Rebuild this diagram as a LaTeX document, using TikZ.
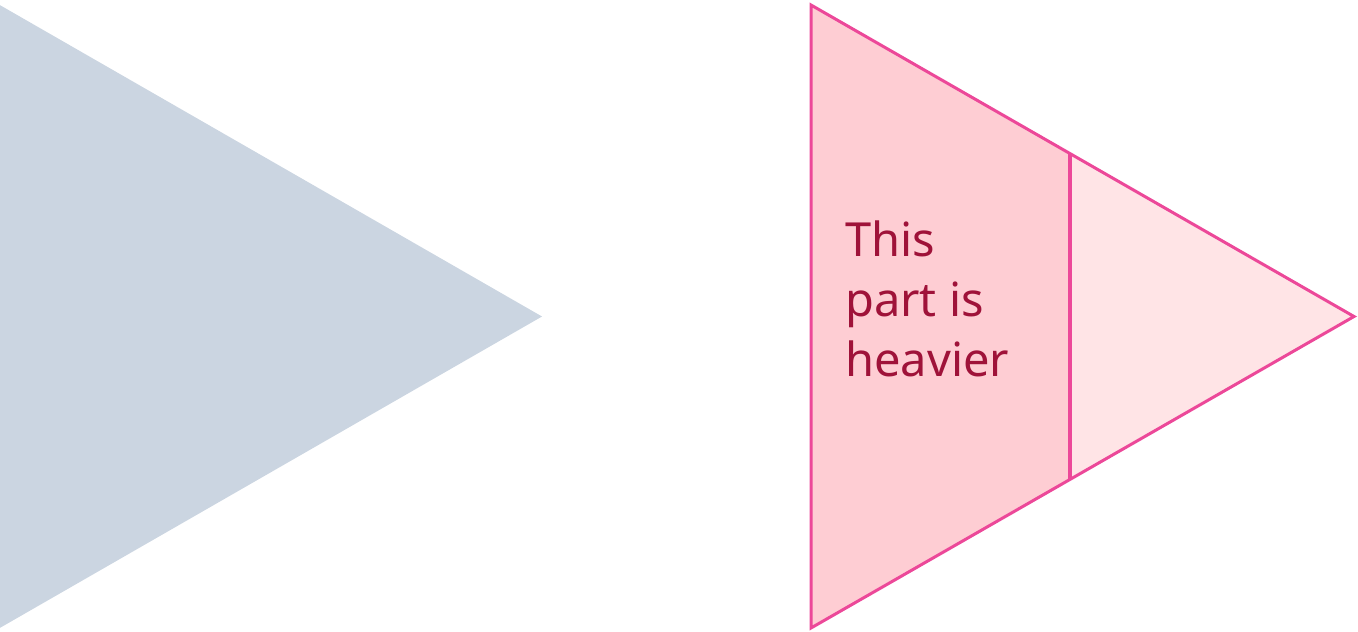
\documentclass[tikz,border=0pt]{standalone}
\usepackage{fontspec}
\setmainfont{Noto Sans}
\definecolor{slatefill}{HTML}{CBD5E1}
\definecolor{rosedark}{HTML}{FECDD3}
\definecolor{roselight}{HTML}{FFE4E6}
\definecolor{pinkline}{HTML}{EC4899}
\definecolor{rosetext}{HTML}{9F1239}
\tikzset{
  outline/.style={draw=pinkline, line width=3pt, line join=miter},
  divider/.style={draw=pinkline, line width=3.5pt},
  label/.style={text=rosetext, font=\fontsize{47}{60}\selectfont, align=left, inner sep=0pt, anchor=north west}
}
\begin{document}
\begin{tikzpicture}[x=1pt,y=-1pt]
\useasboundingbox (0,0) rectangle (1358,632);
% left triangle
\fill[slatefill] (-2,4) -- (542,316.5) -- (-2,629) -- cycle;
% right triangle
\coordinate (A) at (811,5);
\coordinate (B) at (1354,316.5);
\coordinate (C) at (811,628);
\coordinate (Dt) at (1070,153.6);
\coordinate (Db) at (1070,479.4);
\fill[rosedark] (A) -- (Dt) -- (Db) -- (C) -- cycle;
\fill[roselight] (Dt) -- (B) -- (Db) -- cycle;
\draw[divider] (Dt) -- (Db);
\draw[outline] (A) -- (B) -- (C) -- cycle;
\node[label] (txt) at (845,221) {This\\part is\\heavier};
\end{tikzpicture}
\end{document}
